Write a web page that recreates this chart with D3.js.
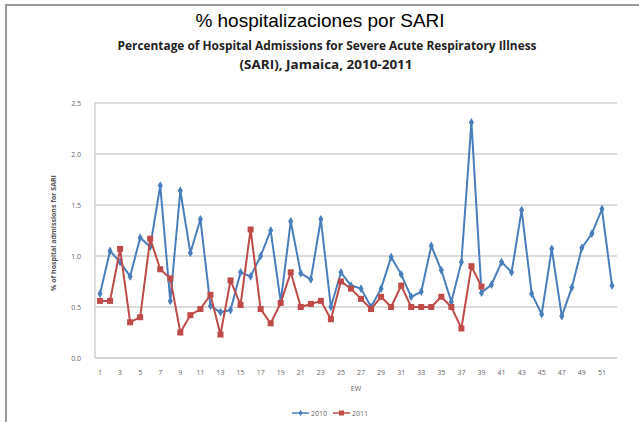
<!DOCTYPE html>
<html>
<head>
<meta charset="utf-8">
<script src="https://cdn.jsdelivr.net/npm/d3@7"></script>
<style>
  body { margin: 0; background: #fff; }
  svg { display: block; }
</style>
</head>
<body>
<svg width="639" height="422"></svg>
<script>
// epidemiological weeks 1..52
const weeks = d3.range(1, 53)

const sari2010 = [
  0.63, 1.05, 0.94, 0.80, 1.18, 1.09, 1.69, 0.56, 1.64, 1.03,
  1.36, 0.51, 0.45, 0.47, 0.84, 0.80, 1.00, 1.25, 0.55, 1.34,
  0.83, 0.77, 1.36, 0.50, 0.84, 0.71, 0.68, 0.50, 0.68, 0.99,
  0.82, 0.60, 0.65, 1.10, 0.86, 0.55, 0.94, 2.31, 0.64, 0.72,
  0.94, 0.84, 1.45, 0.63, 0.43, 1.07, 0.41, 0.69, 1.08, 1.22,
  1.46, 0.71
]

// 2011 only goes to week 39
const sari2011 = [
  0.56, 0.56, 1.07, 0.35, 0.40, 1.17, 0.87, 0.78, 0.25, 0.42,
  0.48, 0.62, 0.23, 0.76, 0.52, 1.26, 0.48, 0.34, 0.54, 0.84,
  0.50, 0.53, 0.56, 0.38, 0.75, 0.68, 0.58, 0.48, 0.60, 0.50,
  0.71, 0.50, 0.50, 0.50, 0.60, 0.50, 0.29, 0.90, 0.70
]

const yTicks = [0, 0.5, 1.0, 1.5, 2.0, 2.5]
const xTicks = weeks.filter(w => w % 2 == 1)

const blue = "#4a7ebb"
const red = "#be4b48"

const svg = d3.select("svg")

// frame round the slide picture
svg.append("path")
  .attr("d", "M6,422 V5 H639")
  .attr("fill", "none")
  .attr("stroke", "#9a9a9a")
  .attr("stroke-width", 2)

svg.append("text")
  .attr("x", 320).attr("y", 27)
  .attr("text-anchor", "middle")
  .style("font", "19px 'Liberation Sans', Arial, sans-serif")
  .text("% hospitalizaciones por SARI")

svg.append("text")
  .attr("x", 327).attr("y", 50)
  .attr("text-anchor", "middle")
  .attr("textLength", 419).attr("lengthAdjust", "spacingAndGlyphs")
  .style("font", "bold 12px 'Open Sans', sans-serif")
  .attr("fill", "#222")
  .text("Percentage of Hospital Admissions for Severe Acute Respiratory Illness")

svg.append("text")
  .attr("x", 326).attr("y", 69)
  .attr("text-anchor", "middle")
  .attr("textLength", 173).attr("lengthAdjust", "spacingAndGlyphs")
  .style("font", "bold 12px 'Open Sans', sans-serif")
  .attr("fill", "#222")
  .text("(SARI), Jamaica, 2010-2011")

const x = d3.scaleBand().domain(weeks).range([95, 617])
const y = d3.scaleLinear().domain([0, 2.5]).range([358, 103])
const cx = w => x(w) + x.bandwidth() / 2

// gridlines
svg.append("g")
  .selectAll("line")
  .data(yTicks)
  .join("line")
  .attr("x1", 95).attr("x2", 617)
  .attr("y1", d => y(d)).attr("y2", d => y(d))
  .attr("stroke", d => d == 0 ? "#c8c8c8" : "#d0d0d0")
  .attr("stroke-width", 1.5)

svg.append("line")
  .attr("x1", 95).attr("x2", 95)
  .attr("y1", 103).attr("y2", 358)
  .attr("stroke", "#d0d0d0")
  .attr("stroke-width", 1.5)

const yAxis = svg.append("g")
  .attr("transform", "translate(84,0)")
  .call(d3.axisLeft(y).tickValues(yTicks).tickFormat(d3.format(".1f")).tickSize(0))
yAxis.select(".domain").remove()
yAxis.selectAll("text")
  .attr("fill", "#666")
  .style("font", "7px 'Open Sans', sans-serif")

const xAxis = svg.append("g")
  .attr("transform", "translate(0,367)")
  .call(d3.axisBottom(x).tickValues(xTicks).tickSize(0))
xAxis.select(".domain").remove()
xAxis.selectAll("text")
  .attr("fill", "#666")
  .style("font", "7px 'Open Sans', sans-serif")

svg.append("text")
  .attr("x", 356).attr("y", 391)
  .attr("text-anchor", "middle")
  .attr("fill", "#666")
  .style("font", "7px 'Open Sans', sans-serif")
  .text("EW")

svg.append("text")
  .attr("transform", "translate(56,233) rotate(-90)")
  .attr("text-anchor", "middle")
  .attr("fill", "#555")
  .style("font", "bold 7px 'Open Sans', sans-serif")
  .text("% of hospital admissions for SARI")

const line = d3.line()
  .x((d, i) => cx(weeks[i]))
  .y(d => y(d))

svg.append("path")
  .datum(sari2010)
  .attr("d", line)
  .attr("fill", "none")
  .attr("stroke", blue)
  .attr("stroke-width", 2)

svg.append("g")
  .selectAll("path")
  .data(sari2010)
  .join("path")
  .attr("d", d3.symbol(d3.symbolDiamond, 22))
  .attr("transform", (d, i) => `translate(${cx(weeks[i])},${y(d)})`)
  .attr("fill", blue)

svg.append("path")
  .datum(sari2011)
  .attr("d", line)
  .attr("fill", "none")
  .attr("stroke", red)
  .attr("stroke-width", 2)

svg.append("g")
  .selectAll("rect")
  .data(sari2011)
  .join("rect")
  .attr("x", (d, i) => cx(weeks[i]) - 3)
  .attr("y", d => y(d) - 3)
  .attr("width", 6).attr("height", 6)
  .attr("fill", red)

// legend
const legend = [
  {name: "2010", color: blue, x: 292},
  {name: "2011", color: red, x: 333}
]
const lg = svg.append("g")
  .selectAll("g")
  .data(legend)
  .join("g")
  .attr("transform", d => `translate(${d.x},413)`)
lg.append("line")
  .attr("x1", 0).attr("x2", 17)
  .attr("stroke", d => d.color)
  .attr("stroke-width", 1.5)
lg.filter(d => d.name == "2010").append("path")
  .attr("d", d3.symbol(d3.symbolDiamond, 12))
  .attr("transform", "translate(8.5,0)")
  .attr("fill", blue)
lg.filter(d => d.name == "2011").append("rect")
  .attr("x", 6).attr("y", -2.5).attr("width", 5).attr("height", 5)
  .attr("fill", red)
lg.append("text")
  .attr("x", 19).attr("y", 2.5)
  .attr("fill", "#666")
  .style("font", "7px 'Open Sans', sans-serif")
  .text(d => d.name)
</script>
</body>
</html>
